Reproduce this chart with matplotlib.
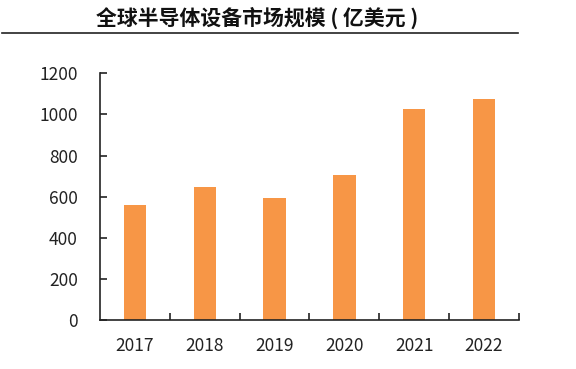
"""Global semiconductor equipment market size bar chart."""

import matplotlib
matplotlib.use("Agg")
import matplotlib.pyplot as plt
from matplotlib.lines import Line2D
from matplotlib.ticker import FixedLocator

plt.rcParams["font.family"] = ["Noto Sans CJK SC", "DejaVu Sans"]

years = ["2017", "2018", "2019", "2020", "2021", "2022"]
market_size = [560, 646, 595, 705, 1025, 1075]
y_ticks = [0, 200, 400, 600, 800, 1000, 1200]
title = "全球半导体设备市场规模 ( 亿美元 )"

fig = plt.figure(figsize=(5.76, 3.69), dpi=100)
ax = fig.add_axes([0.1736, 0.1328, 0.7274, 0.6686])

x = list(range(len(years)))
ax.bar(x, market_size, width=0.32, color="#F79646", zorder=2)

ax.set_xlim(-0.5, len(years) - 0.5)
ax.set_ylim(0, 1200)
ax.set_yticks(y_ticks)
ax.set_xticks(x)
ax.set_xticklabels(years)
ax.xaxis.set_minor_locator(FixedLocator([i + 0.5 for i in x]))

ax.tick_params(axis="x", which="major", length=0, pad=12, labelsize=12.5, colors="#222222")
ax.tick_params(axis="x", which="minor", direction="in", length=5, width=1.2, color="#222222")
ax.tick_params(axis="y", direction="in", length=5, width=1.2, pad=16, labelsize=12.5,
               colors="#222222")

for side in ("top", "right"):
    ax.spines[side].set_visible(False)
for side in ("left", "bottom"):
    ax.spines[side].set_linewidth(1.2)
    ax.spines[side].set_color("#222222")

fig.text(0.447, 0.952, title, ha="center", va="center", fontsize=15,
         fontweight="bold", color="#111111")
fig.add_artist(Line2D([0.003, 0.90], [0.911, 0.911], color="#222222", linewidth=1.2,
                      transform=fig.transFigure))

fig.savefig("out.png", dpi=100)
plt.close(fig)
